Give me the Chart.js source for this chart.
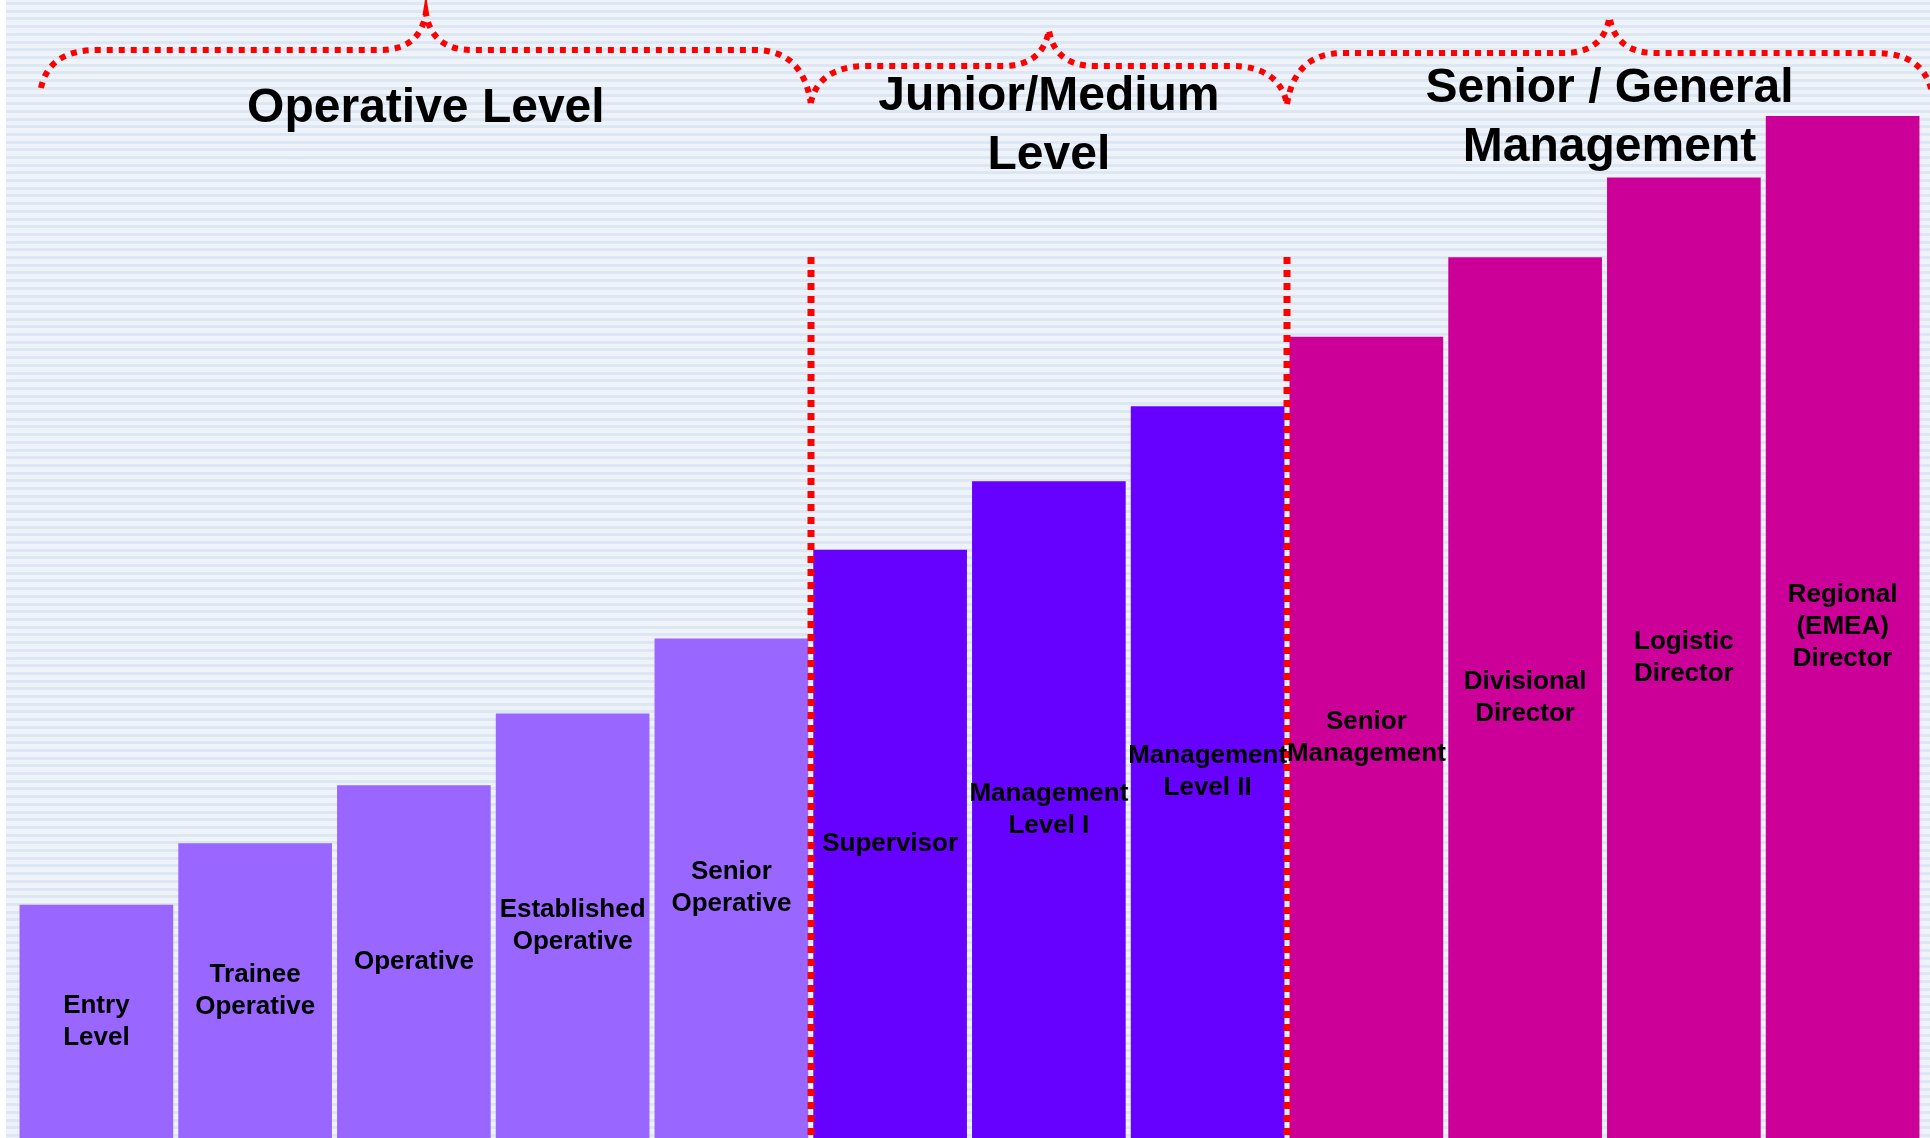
<!DOCTYPE html>
<html>
<head>
<meta charset="utf-8">
<script src="https://cdn.jsdelivr.net/npm/chart.js@4/dist/chart.umd.min.js"></script>
<style>
  html, body { margin: 0; padding: 0; background: #fff; }
  canvas { display: block; }
</style>
</head>
<body>
<canvas id="career" width="1930" height="1138"></canvas>
<script>
// career steps, left to right
const levelNames = ['Entry Level', 'Trainee Operative', 'Operative', 'Established Operative', 'Senior Operative',
    'Supervisor', 'Management Level I', 'Management Level II',
    'Senior Management', 'Divisional Director', 'Logistic Director', 'Regional (EMEA) Director'];
const levelLines = [['Entry', 'Level'], ['Trainee', 'Operative'], ['Operative'], ['Established', 'Operative'], ['Senior', 'Operative'],
    ['Supervisor'], ['Management', 'Level I'], ['Management', 'Level II'],
    ['Senior', 'Management'], ['Divisional', 'Director'], ['Logistic', 'Director'], ['Regional', '(EMEA)', 'Director']];
const levelValues = [20.5, 25.9, 31.0, 37.3, 43.9, 51.7, 57.7, 64.3, 70.4, 77.4, 84.4, 89.8];
const levelGroups = [0, 0, 0, 0, 0, 1, 1, 1, 2, 2, 2, 2];

const groupTitles = [['Operative Level'], ['Junior/Medium', 'Level'], ['Senior / General', 'Management']];
const groupColors = ['#9966FF', '#6600FF', '#CC0099'];

const stripes = {
    id: 'stripes',
    beforeDraw: function (chart) {
        let ctx = chart.ctx;
        ctx.save();
        ctx.fillStyle = '#ffffff';
        ctx.fillRect(0, 0, chart.width, chart.height);
        ctx.fillStyle = '#eef3fa';
        ctx.fillRect(6, 0, chart.width - 6, chart.height);
        ctx.fillStyle = '#dde7f4';
        for (let y = 2; y < chart.height; y += 7.7) {
            ctx.fillRect(6, Math.round(y), chart.width - 6, 3);
        }
        ctx.restore();
    }
};

// braces, dividers, group titles and bar texts
const decorations = {
    id: 'decorations',
    afterDatasetsDraw: function (chart) {
        let ctx = chart.ctx;
        let x = chart.scales.x, y = chart.scales.y;
        let half = (x.getPixelForValue(1) - x.getPixelForValue(0)) / 2;
        let bounds = [];
        for (let g = 0; g < groupTitles.length; g++) {
            let idx = levelGroups.map((v, i) => v === g ? i : -1).filter(i => i >= 0);
            bounds.push([x.getPixelForValue(idx[0]) - half, x.getPixelForValue(idx[idx.length - 1]) + half]);
        }

        ctx.save();
        ctx.strokeStyle = '#ff0000';
        ctx.lineCap = 'butt';

        // dotted dividers between groups
        ctx.lineWidth = 7;
        ctx.setLineDash([7, 6]);
        for (let g = 1; g < bounds.length; g++) {
            let bx = Math.round(bounds[g][0]);
            ctx.beginPath();
            ctx.moveTo(bx, 257);
            ctx.lineTo(bx, chart.height);
            ctx.stroke();
        }

        // curly braces above each group
        let braceStyle = [
            {l: 24, r: 0, yl: 88, yr: 103, yh: 50, yp: 13},
            {l: 0, r: 0, yl: 103, yr: 104, yh: 66, yp: 30},
            {l: 0, r: -10, yl: 104, yr: 93, yh: 53, yp: 17}
        ];
        ctx.lineWidth = 6;
        ctx.setLineDash([6, 6]);
        let peaks = [];
        bounds.forEach(function (b, g) {
            let s = braceStyle[g];
            let x0 = b[0] + s.l, x1 = b[1] - s.r;
            if (g === bounds.length - 1) x1 = chart.width + 2;
            let xp = (x0 + x1) / 2;
            peaks.push(xp);
            ctx.beginPath();
            ctx.moveTo(x0, s.yl);
            ctx.quadraticCurveTo(x0 + 8, s.yh, x0 + 56, s.yh);
            ctx.lineTo(xp - 46, s.yh);
            ctx.quadraticCurveTo(xp - 6, s.yh, xp, s.yp);
            ctx.quadraticCurveTo(xp + 6, s.yh, xp + 46, s.yh);
            ctx.lineTo(x1 - 56, s.yh);
            ctx.quadraticCurveTo(x1 - 8, s.yh, x1, s.yr);
            ctx.stroke();
        });
        ctx.setLineDash([]);

        // group titles
        let baselines = [122, 110, 102];
        ctx.fillStyle = '#000000';
        ctx.textAlign = 'center';
        ctx.textBaseline = 'alphabetic';
        ctx.font = 'bold 48px "Liberation Sans", Arial, sans-serif';
        groupTitles.forEach(function (lines, g) {
            lines.forEach(function (t, k) {
                ctx.fillText(t, peaks[g], baselines[g] + k * 59);
            });
        });

        // labels centred inside each bar
        ctx.font = 'bold 26px "Liberation Sans", Arial, sans-serif';
        ctx.textBaseline = 'middle';
        let meta = chart.getDatasetMeta(0);
        meta.data.forEach(function (bar, i) {
            let lines = levelLines[i];
            let cy = y.getPixelForValue(levelValues[i] / 2);
            let lh = 32;
            let top = cy - (lines.length - 1) * lh / 2;
            lines.forEach(function (t, k) {
                ctx.fillText(t, bar.x, top + k * lh);
            });
        });
        ctx.restore();
    }
};

new Chart(document.getElementById('career'), {
    type: 'bar',
    data: {
        labels: levelNames,
        datasets: [{
            data: levelValues,
            backgroundColor: levelGroups.map(g => groupColors[g]),
            borderWidth: 0,
            categoryPercentage: 1,
            barPercentage: 0.968
        }]
    },
    options: {
        responsive: false,
        animation: false,
        devicePixelRatio: 1,
        layout: { padding: { left: 17, right: 8, top: 0, bottom: 0 } },
        plugins: {
            legend: { display: false },
            tooltip: { enabled: false }
        },
        scales: {
            x: { display: false },
            y: { display: false, min: 0, max: 100 }
        }
    },
    plugins: [stripes, decorations]
});
</script>
</body>
</html>
